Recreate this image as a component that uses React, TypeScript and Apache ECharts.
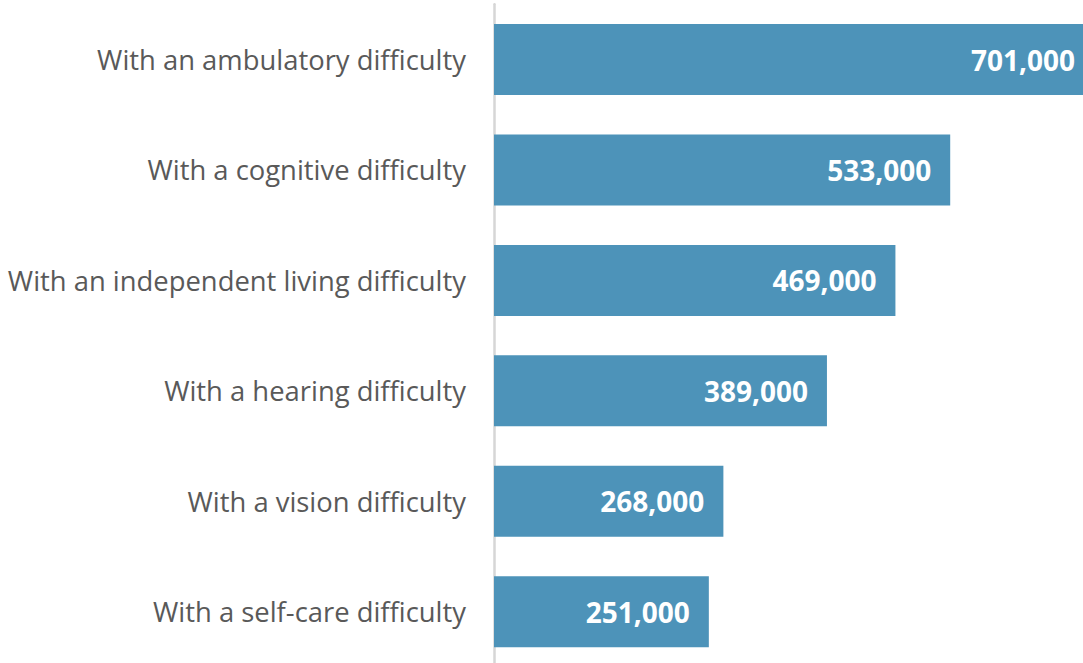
import React, { useEffect, useRef } from "react";
import * as echarts from "echarts";

const categories = [
  "With an ambulatory difficulty",
  "With a cognitive difficulty",
  "With an independent living difficulty",
  "With a hearing difficulty",
  "With a vision difficulty",
  "With a self-care difficulty",
];
const values = [701000, 533000, 469000, 389000, 268000, 251000];

export default function App() {
  const ref = useRef<HTMLDivElement>(null);
  useEffect(() => {
    if (!ref.current) return;
    const chart = echarts.init(ref.current, undefined, { renderer: "svg" });
    chart.setOption({
      animation: false,
      grid: {
        left: 494,
        top: 4.3,
        width: 600,
        height: 662.6,
        containLabel: false,
        outerBoundsMode: "none",
      },
      xAxis: {
        type: "value",
        min: 0,
        max: 701000,
        show: false,
      },
      yAxis: {
        type: "category",
        inverse: true,
        data: categories,
        axisLine: { show: true, lineStyle: { color: "#d6d6d6", width: 2.5 } },
        axisTick: { show: false },
        axisLabel: {
          color: "#595959",
          fontFamily: "Open Sans",
          fontSize: 27.4,
          margin: 28,
        },
      },
      series: [
        {
          type: "bar",
          data: values,
          barWidth: 71,
          clip: false,
          itemStyle: { color: "#4d93b9" },
          label: {
            show: true,
            position: "insideRight",
            distance: 19,
            color: "#ffffff",
            fontFamily: "Open Sans",
            fontWeight: "bold",
            fontSize: 28,
            formatter: (p: any) => p.value.toLocaleString("en-US"),
          },
        },
      ],
    });
    return () => chart.dispose();
  }, []);
  return (
    <div
      ref={ref}
      style={{ position: "fixed", left: 0, top: 0, width: 1083, height: 663, background: "#fff" }}
    />
  );
}
